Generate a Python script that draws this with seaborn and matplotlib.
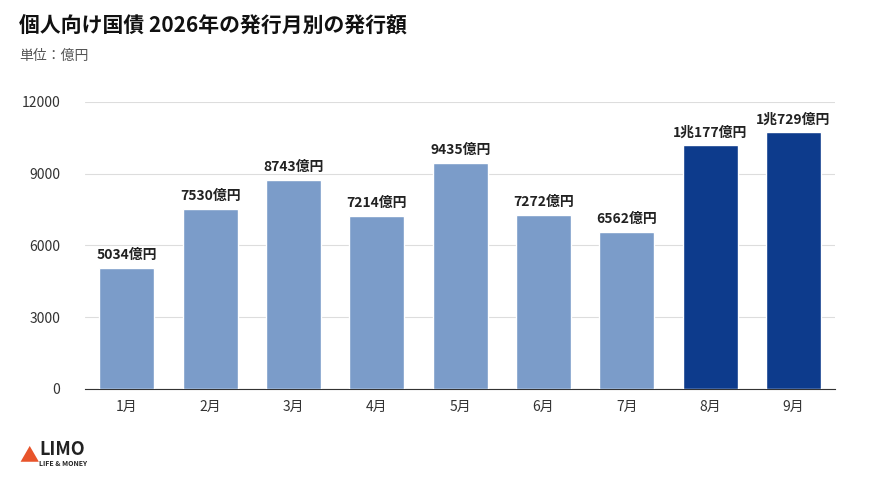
import matplotlib
matplotlib.use("Agg")
import matplotlib.pyplot as plt
import seaborn as sns
import pandas as pd

months = ["1月", "2月", "3月", "4月", "5月", "6月", "7月", "8月", "9月"]
amounts = [5034, 7530, 8743, 7214, 9435, 7272, 6562, 10177, 10729]
labels = ["5034億円", "7530億円", "8743億円", "7214億円", "9435億円",
          "7272億円", "6562億円", "1兆177億円", "1兆729億円"]
yticks = [0, 3000, 6000, 9000, 12000]

LIGHT = "#7b9cc9"
DARK = "#0d3b8c"

sns.set_style("white")
plt.rcParams["font.family"] = ["Noto Sans CJK JP", "DejaVu Sans"]

df = pd.DataFrame({"month": months, "amount": amounts})
colors = [LIGHT] * 7 + [DARK] * 2

fig = plt.figure(figsize=(8.7, 4.83), dpi=100)
ax = fig.add_axes([0.098, 0.195, 0.862, 0.594])
sns.barplot(data=df, x="month", y="amount", hue="month", palette=colors,
            saturation=1, legend=False, width=0.66, ax=ax, zorder=3)

for i, (v, t) in enumerate(zip(amounts, labels)):
    ax.text(i, v + 250, t, ha="center", va="bottom", fontsize=10,
            fontweight="bold", color="#222222")

ax.set_ylim(0, 12000)
ax.set_yticks(yticks)
ax.set_yticklabels([str(y) for y in yticks], fontsize=10, color="#333333")
ax.tick_params(axis="x", labelsize=10, colors="#333333", length=0, pad=8)
ax.tick_params(axis="y", length=0, pad=18)
ax.grid(axis="y", color="#dddddd", linewidth=0.8, zorder=0)
ax.set_xlabel("")
ax.set_ylabel("")
for s in ["top", "right", "left"]:
    ax.spines[s].set_visible(False)
ax.spines["bottom"].set_color("#333333")

fig.text(0.022, 0.935, "個人向け国債 2026年の発行月別の発行額", fontsize=15,
         fontweight="bold", color="#111111")
fig.text(0.022, 0.875, "単位：億円", fontsize=10, color="#555555")

fig.text(0.045, 0.058, "LIMO", fontsize=13, fontweight="bold", color="#222222")
fig.text(0.045, 0.035, "LIFE & MONEY", fontsize=5, fontweight="bold", color="#222222")
fig.text(0.022, 0.045, "▲", fontsize=14, color="#e8542b")

fig.savefig("out.png", dpi=100)
